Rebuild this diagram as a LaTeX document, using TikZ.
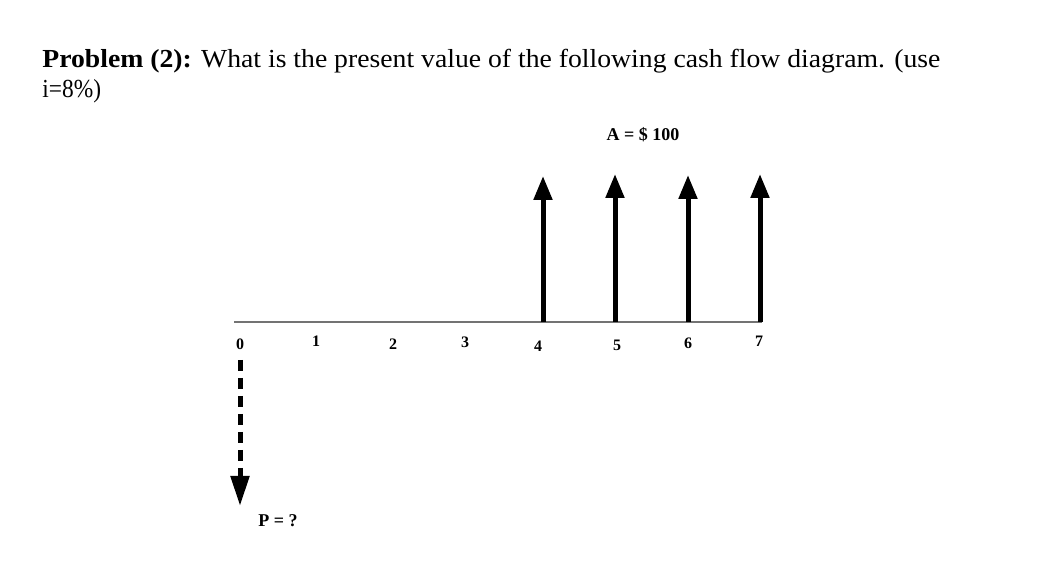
\documentclass[tikz,border=0pt]{standalone}
\usepackage{fontspec}
\setmainfont{Liberation Serif}
\usepackage{graphicx}
\usepackage{tikz}
\usetikzlibrary{arrows.meta,positioning}
\tikzstyle{axis}=[draw=black!55, line width=1pt]
\tikzstyle{flow}=[draw=black, line width=2.5pt, -{Triangle[width=9pt,length=12pt]}]
\tikzstyle{pflow}=[draw=black, line width=2.5pt, dash pattern=on 5.5pt off 3.5pt, -{Triangle[width=9pt,length=15pt]}]
\tikzstyle{per}=[inner sep=0pt, font=\fontsize{8}{9}\selectfont\bfseries]

\begin{document}
\begin{tikzpicture}[x=0.5pt, y=-0.5pt]
\useasboundingbox (0,0) rectangle (1046,565);
%
  \node[anchor=base west, inner sep=0pt, font=\fontsize{13}{15}\selectfont] (q1) at (42,68)
    {\resizebox{449pt}{\height}{\textbf{Problem (2):} What is the present value of the following cash flow diagram. (use}};
  \node[anchor=base west, inner sep=0pt, font=\fontsize{13}{15}\selectfont] (q2) at (42,98)
    {\scalebox{0.9}[1]{i=8\%)}};
%
  \coordinate (0) at (234,322);
  \coordinate (end) at (762,322);
  \draw[axis] (0) -- (end);
%
  \coordinate (4) at (543,322);
  \coordinate (5) at (615,322);
  \coordinate (6) at (688,322);
  \coordinate (7) at (760,322);
  \coordinate (4t) at (543,176);
  \coordinate (5t) at (615,174);
  \coordinate (6t) at (688,175);
  \coordinate (7t) at (760,174);
  \path
	(4) edge[flow] (4t)
	(5) edge[flow] (5t)
	(6) edge[flow] (6t)
	(7) edge[flow] (7t);
%
  \node[per] (l0) at (240,344) {0};
  \node[per] (l1) at (316,341) {1};
  \node[per] (l2) at (393,344) {2};
  \node[per] (l3) at (465,342) {3};
  \node[per] (l4) at (538,346) {4};
  \node[per] (l5) at (617,345) {5};
  \node[per] (l6) at (688,343) {6};
  \node[per] (l7) at (759,341) {7};
%
  \node[per, font=\fontsize{9}{10}\selectfont\bfseries] (A) at (643,135) {A = \$ 100};
%
  \coordinate (p0) at (240,360);
  \coordinate (p1) at (240,506);
  \draw[pflow] (p0) -- (p1);
  \node[per, font=\fontsize{9}{10}\selectfont\bfseries] (P) at (278,521) {P = ?};
%
\end{tikzpicture}
\end{document}
